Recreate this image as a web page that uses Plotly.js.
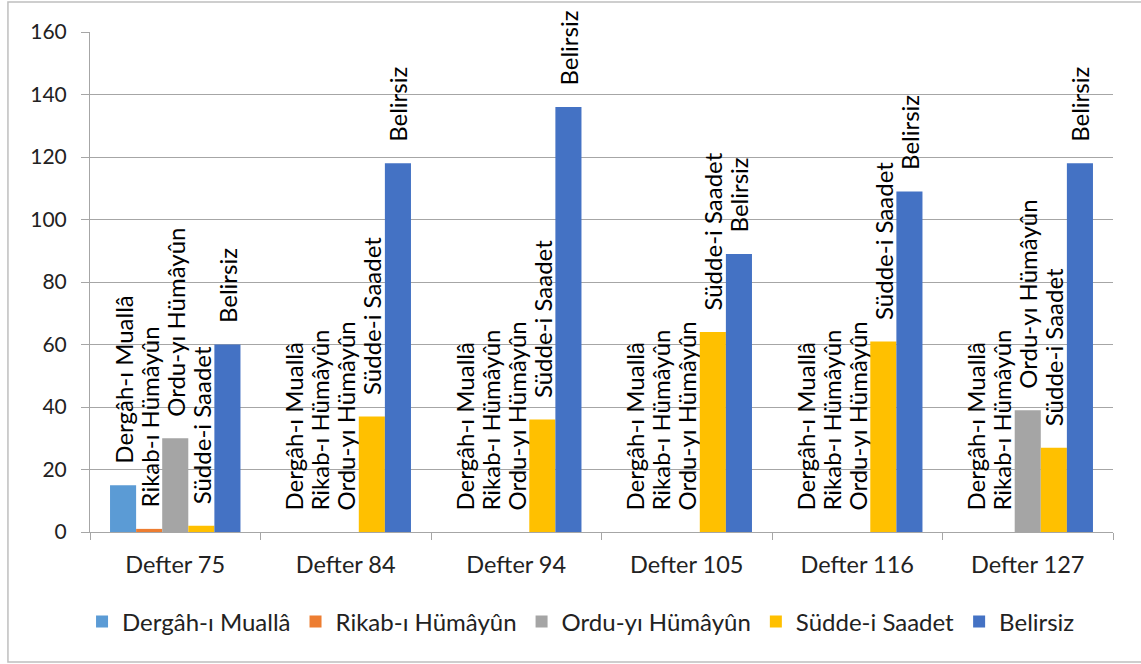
<!DOCTYPE html>
<html>
<head>
<meta charset="utf-8">
<script src="https://cdn.plot.ly/plotly-3.0.1.min.js"></script>
<style>
  html, body { margin: 0; padding: 0; background: #fff; }
  #chart { width: 1141px; height: 664px; }
</style>
</head>
<body>
<div id="chart"></div>
<script>
const categories = ["Defter 75", "Defter 84", "Defter 94", "Defter 105", "Defter 116", "Defter 127"];
const seriesNames = ["Dergâh-ı Muallâ", "Rikab-ı Hümâyûn", "Ordu-yı Hümâyûn", "Südde-i Saadet", "Belirsiz"];
const dergah   = [15, 0, 0, 0, 0, 0];
const rikab    = [1, 0, 0, 0, 0, 0];
const ordu     = [30, 0, 0, 0, 0, 39];
const sudde    = [2, 37, 36, 64, 61, 27];
const belirsiz = [60, 118, 136, 89, 109, 118];
const yTicks = [0, 20, 40, 60, 80, 100, 120, 140, 160];

const colors = ["#5B9BD5", "#ED7D31", "#A5A5A5", "#FFC000", "#4472C4"];
const seriesValues = [dergah, rikab, ordu, sudde, belirsiz];
const FONT = "Lato, 'Noto Sans', sans-serif";
const PAD = "\u00A0\u00A0\u00A0";

const traces = seriesValues.map((vals, i) => ({
  type: "bar",
  name: seriesNames[i],
  x: categories,
  y: vals,
  text: vals.map(() => PAD + seriesNames[i]),
  texttemplate: "%{text}",
  textposition: "outside",
  textangle: -90,
  constraintext: "none",
  cliponaxis: false,
  textfont: { family: FONT, size: 24, color: "#000" },
  marker: { color: colors[i], line: { width: 0 } },
  hoverinfo: "x+y+name"
}));

const layout = {
  width: 1141,
  height: 664,
  margin: { l: 90, r: 28, t: 32, b: 132 },
  paper_bgcolor: "#fff",
  plot_bgcolor: "#fff",
  font: { family: FONT, size: 20, color: "#000" },
  barmode: "group",
  bargap: 0.235,
  bargroupgap: 0,
  showlegend: true,
  legend: {
    orientation: "h",
    x: 0.48, xanchor: "center",
    y: -0.18, yanchor: "middle",
    font: { family: FONT, size: 24, color: "#222" },
    itemwidth: 30,
    traceorder: "normal"
  },
  xaxis: {
    type: "category",
    showline: true,
    linecolor: "#A6A6A6",
    linewidth: 1,
    ticks: "outside",
    tickson: "boundaries",
    ticklen: 7,
    tickcolor: "#A6A6A6",
    showgrid: false,
    ticklabelstandoff: 12,
    tickfont: { family: FONT, size: 23.5, color: "#222" }
  },
  yaxis: {
    range: [0, 160],
    tickvals: yTicks,
    ticktext: yTicks.map(String),
    showline: true,
    linecolor: "#A6A6A6",
    linewidth: 1,
    ticks: "outside",
    ticklen: 8,
    tickcolor: "#A6A6A6",
    showgrid: true,
    gridcolor: "#A6A6A6",
    gridwidth: 1,
    zeroline: false,
    ticklabelstandoff: 10,
    tickfont: { family: FONT, size: 21, color: "#222" }
  },
  shapes: [{
    type: "rect", xref: "paper", yref: "paper",
    x0: -0.0802, x1: 1.06, y0: -0.26, y1: 1.06,
    line: { color: "#BFBFBF", width: 1.5 },
    fillcolor: "rgba(0,0,0,0)",
    layer: "below"
  }]
};

Plotly.newPlot("chart", traces, layout, { displayModeBar: false, staticPlot: true });
</script>
</body>
</html>
